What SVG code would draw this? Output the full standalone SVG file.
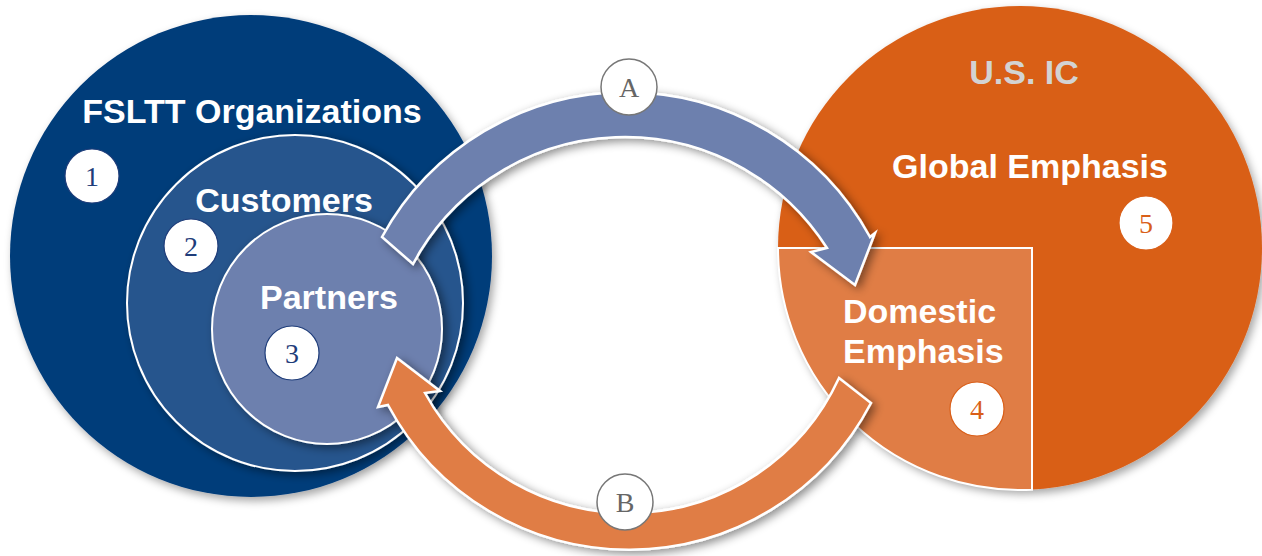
<svg xmlns="http://www.w3.org/2000/svg" width="1262" height="556" viewBox="0 0 1262 556">
  <defs>
    <filter id="sh" x="-20%" y="-20%" width="140%" height="140%">
      <feDropShadow dx="3" dy="4" stdDeviation="4" flood-color="#000" flood-opacity="0.35"/>
    </filter>
    <filter id="sh2" x="-20%" y="-20%" width="140%" height="140%">
      <feDropShadow dx="4" dy="3" stdDeviation="5" flood-color="#000" flood-opacity="0.45"/>
    </filter>
    <style>
      .lbl { font-family: "Liberation Sans", Arial, sans-serif; font-weight: bold; font-size: 34px; fill: #ffffff; }
      .num { font-family: "Liberation Serif", "Times New Roman", serif; font-size: 28px; text-anchor: middle; }
      .nb circle { fill: #ffffff; stroke: #1f3d7a; stroke-width: 1.2; }
      .nb text { fill: #1f3d7a; }
      .no circle { fill: #ffffff; stroke: #d95f19; stroke-width: 1.2; }
      .no text { fill: #d95f19; }
      .ab circle { fill: #ffffff; stroke: #777777; stroke-width: 1.5; }
      .ab text { fill: #666666; }
      .arrow { stroke: #ffffff; stroke-width: 2.5; stroke-linejoin: miter; }
    </style>
  </defs>
  <rect width="1262" height="556" fill="#ffffff"/>

  <g id="fsltt">
    <circle cx="251" cy="256" r="241" fill="#033c7a" filter="url(#sh)"/>
    <text class="lbl" x="252" y="123" text-anchor="middle">FSLTT Organizations</text>
    <g class="nb"><circle cx="92" cy="176" r="27"/><text class="num" x="92" y="186">1</text></g>
  </g>

  <g id="customers">
    <circle cx="295" cy="303" r="168" fill="#27548d" stroke="#ffffff" stroke-width="2" filter="url(#sh2)"/>
    <text class="lbl" x="284" y="212" text-anchor="middle">Customers</text>
    <g class="nb"><circle cx="191" cy="246" r="27"/><text class="num" x="191" y="256">2</text></g>
  </g>

  <g id="partners">
    <circle cx="327" cy="329" r="115" fill="#6d80ae" stroke="#ffffff" stroke-width="2" filter="url(#sh2)"/>
    <text class="lbl" x="329" y="309" text-anchor="middle">Partners</text>
    <g class="nb"><circle cx="292" cy="353" r="27"/><text class="num" x="292" y="363">3</text></g>
  </g>

  <g id="usic">
    <circle cx="1020" cy="248" r="242" fill="#d95f19" filter="url(#sh)"/>
    <text class="lbl" x="1024" y="84" text-anchor="middle" style="fill:#d3d3d3">U.S. IC</text>
  </g>

  <g id="global">
    <text class="lbl" x="1030" y="178" text-anchor="middle">Global Emphasis</text>
    <g class="no"><circle cx="1146" cy="223" r="27"/><text class="num" x="1146" y="233">5</text></g>
  </g>

  <g id="domestic">
    <path d="M778,248 L1032,248 L1032,489.7 A242 242 0 0 1 778,248 Z" fill="#e07d45" stroke="#ffffff" stroke-width="2"/>
    <text class="lbl" x="843" y="323">Domestic</text>
    <text class="lbl" x="843" y="363">Emphasis</text>
    <g class="no"><circle cx="977" cy="409" r="27"/><text class="num" x="977" y="419">4</text></g>
  </g>

  <g id="connectors">
    <g id="arrowA">
      <path class="arrow" fill="#6d80ae" filter="url(#sh2)" d="M382,237 A278 278 0 0 1 870,237 L875,233 L855,285 L811,252 L827,248 A240 240 0 0 0 413,264 Z"/>
      <g class="ab"><circle cx="629" cy="87" r="28"/><text class="num" x="629" y="97">A</text></g>
    </g>
    <g id="arrowB">
      <path class="arrow" fill="#e07d45" filter="url(#sh2)" d="M839,378 L871,403 A273 273 0 0 1 388,405 L378,407 L397,358 L440,391 L425,393 A232 232 0 0 0 839,378 Z"/>
      <g class="ab"><circle cx="625" cy="502" r="28"/><text class="num" x="625" y="512">B</text></g>
    </g>
  </g>
</svg>
